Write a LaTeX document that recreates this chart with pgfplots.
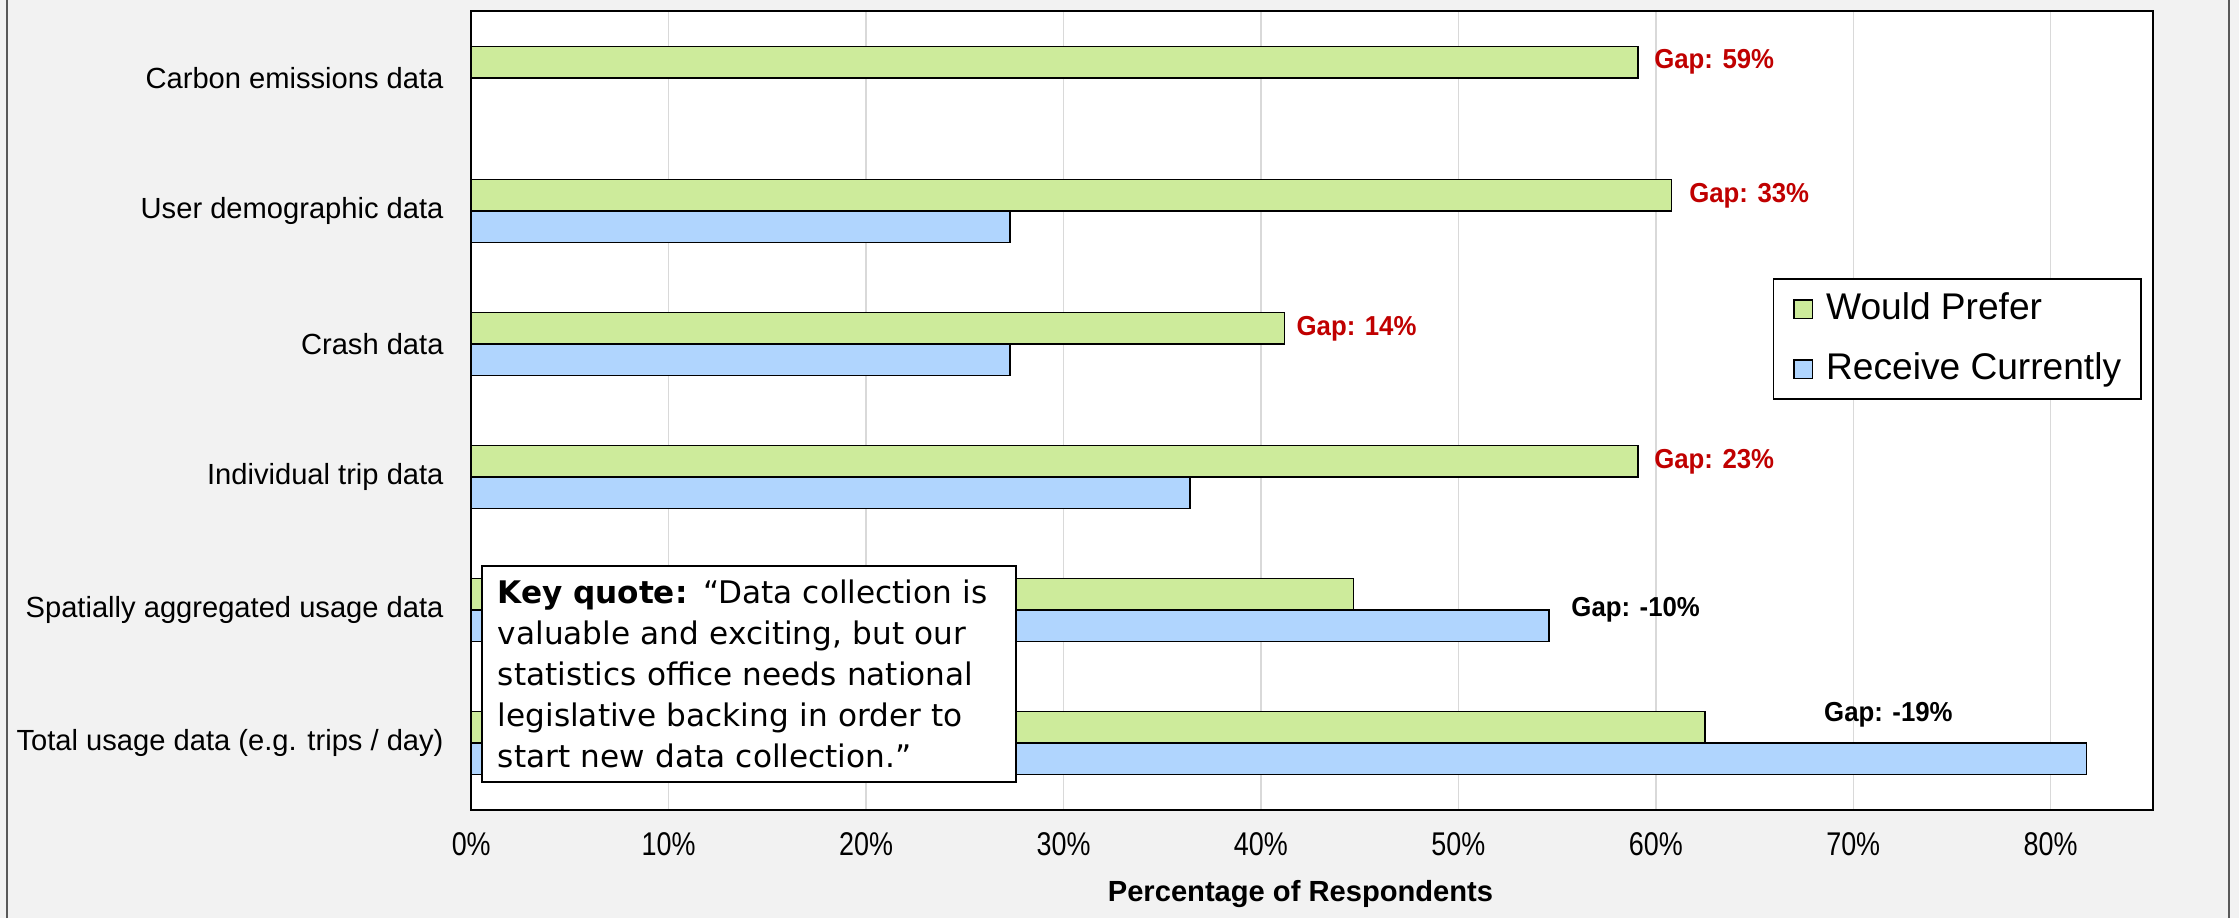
\documentclass[border=0pt]{standalone}
\usepackage{fontspec}
\setmainfont{Liberation Sans}
\newfontfamily\quotefont{DejaVu Sans}
\newfontfamily\narrowfont[FakeStretch=0.82]{Liberation Sans}
\newfontfamily\gapfont[FakeStretch=0.94]{Liberation Sans}
\usepackage{pgfplots}
\pgfplotsset{compat=1.18}
\definecolor{bgcol}{HTML}{F2F2F2}
\definecolor{prefer}{HTML}{CDEB9B}
\definecolor{receive}{HTML}{B0D5FE}
\definecolor{gapred}{HTML}{C00000}
\definecolor{gridc}{HTML}{D9D9D9}
\begin{document}
\begin{tikzpicture}
\useasboundingbox (-165pt,-38pt) rectangle (619pt,283.5pt);
\fill[bgcol] (-165pt,-38pt) rectangle (619pt,283.5pt);
\draw[gray!70!black, line width=0.7pt] (-162.5pt,-38pt) -- (-162.5pt,283.5pt);
\draw[gray!70!black, line width=0.7pt] (615.5pt,-38pt) -- (615.5pt,283.5pt);
\begin{axis}[
  at={(0pt,0pt)}, anchor=south west,
  scale only axis, width=589pt, height=279.5pt,
  xbar, bar width=0.236,
  xmin=0, xmax=85.2, ymin=-0.5, ymax=5.5,
  axis background/.style={fill=white},
  axis line style={black, line width=0.7pt},
  xmajorgrids, grid style={gridc, line width=0.5pt},
  major tick length=0pt,
  xtick={0,10,20,30,40,50,60,70,80},
  xticklabels={0\%,10\%,20\%,30\%,40\%,50\%,60\%,70\%,80\%},
  xticklabel style={font=\narrowfont\fontsize{11.5}{13}\selectfont, inner sep=0pt, anchor=center, yshift=-12pt},
  ytick={0,1,2,3,4,5},
  yticklabels={Total usage data (e.g. trips / day),Spatially aggregated usage data,Individual trip data,Crash data,User demographic data,Carbon emissions data},
  yticklabel style={font=\fontsize{10.2}{12}\selectfont, inner sep=0pt, anchor=east, xshift=-9.5pt},
  xlabel={Percentage of Respondents},
  xlabel style={font=\bfseries\fontsize{10.2}{12}\selectfont, at={(axis description cs:0.493,0)}, anchor=center, yshift=-29.5pt},
  legend style={at={(axis description cs:0.9932,0.6655)}, anchor=north east, draw=black, line width=0.5pt, fill=white,
    font=\fontsize{13}{15}\selectfont, inner xsep=7pt, inner ysep=4.5pt, row sep=9pt, column sep=4.5pt,
    nodes={inner sep=0pt, text height=9.5pt, text depth=2.5pt}},
  legend cell align=left,
  legend image code/.code={\draw[#1, draw=black, line width=0.5pt] (0pt,-3.25pt) rectangle (6.5pt,3.25pt);},
  clip=false,
]
\addplot[fill=prefer, draw=black, line width=0.5pt, bar shift=0.118] coordinates {(62.5,0) (44.7,1) (59.1,2) (41.2,3) (60.8,4) (59.1,5)};
\addlegendentry{Would Prefer}
\addplot[fill=receive, draw=black, line width=0.5pt, bar shift=-0.118] coordinates {(81.8,0) (54.6,1) (36.4,2) (27.3,3) (27.3,4)};
\addlegendentry{Receive Currently}

\node[font=\gapfont\bfseries\fontsize{9.6}{11}\selectfont, text=gapred, anchor=west, inner sep=0pt, xshift=5.5pt] at (axis cs:59.1,5.118) {Gap: 59\%};
\node[font=\gapfont\bfseries\fontsize{9.6}{11}\selectfont, text=gapred, anchor=west, inner sep=0pt, xshift=6pt] at (axis cs:60.8,4.118) {Gap: 33\%};
\node[font=\gapfont\bfseries\fontsize{9.6}{11}\selectfont, text=gapred, anchor=west, inner sep=0pt, xshift=4pt] at (axis cs:41.2,3.118) {Gap: 14\%};
\node[font=\gapfont\bfseries\fontsize{9.6}{11}\selectfont, text=gapred, anchor=west, inner sep=0pt, xshift=5.5pt] at (axis cs:59.1,2.118) {Gap: 23\%};
\node[font=\gapfont\bfseries\fontsize{9.6}{11}\selectfont, text=black, anchor=west, inner sep=0pt] at (axis cs:55.7,1.0) {Gap: -10\%};
\node[font=\gapfont\bfseries\fontsize{9.6}{11}\selectfont, text=black, anchor=west, inner sep=0pt] at (axis cs:68.5,0.21) {Gap: -19\%};

\node[draw=black, line width=0.6pt, fill=white, anchor=north west, text width=176pt, inner xsep=5.5pt, inner ysep=1pt,
  minimum height=75.5pt, align=left, font=\quotefont\fontsize{10.9}{14.4}\selectfont]
  at (axis description cs:0.006,0.306)
  {\mbox{\textbf{Key quote:} “Data collection is}\\ \mbox{valuable and exciting, but our}\\ \mbox{statistics office needs national}\\ \mbox{legislative backing in order to}\\ \mbox{start new data collection.”}};
\end{axis}
\end{tikzpicture}
\end{document}
